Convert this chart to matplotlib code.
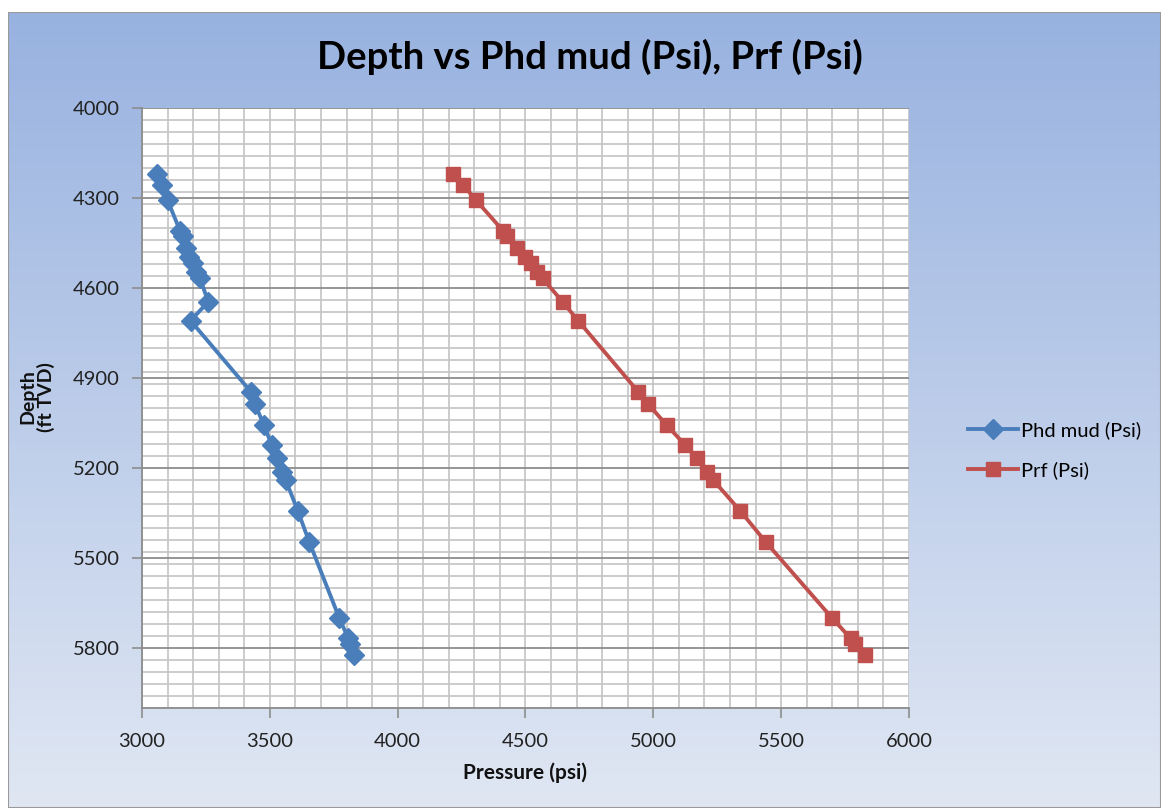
import numpy as np
import matplotlib
matplotlib.use("Agg")
import matplotlib.pyplot as plt
from matplotlib.ticker import MultipleLocator
from matplotlib.patches import Rectangle

# ---- data ----
depth_ft = [4220, 4257, 4307, 4410, 4425, 4468, 4496, 4518, 4545, 4568, 4646, 4709,
            4946, 4987, 5057, 5123, 5168, 5212, 5240, 5342, 5446, 5701, 5768, 5785, 5823]
phd_mud = [3059, 3078, 3100, 3149, 3160, 3172, 3183, 3198, 3212, 3227, 3259, 3190,
           3426, 3442, 3477, 3507, 3529, 3546, 3562, 3609, 3654, 3772, 3807, 3812, 3829]
prf = [4217, 4257, 4306, 4413, 4429, 4465, 4498, 4520, 4545, 4567, 4645, 4706,
       4941, 4980, 5052, 5124, 5169, 5208, 5234, 5339, 5439, 5700, 5772, 5790, 5828]
series_labels = ["Phd mud (Psi)", "Prf (Psi)"]
title = "Depth vs Phd mud (Psi), Prf (Psi)"
xlabel = "Pressure (psi)"
ylabel = "Depth\n(ft TVD)"

plt.rcParams['font.family'] = ['Lato', 'DejaVu Sans']

W, H = 1161, 808
fig = plt.figure(figsize=(W / 100, H / 100), dpi=100)
fig.patch.set_facecolor('white')

# background gradient panel
bx0, by_top = 8, 12
bg = fig.add_axes([bx0 / W, 0, 1 - bx0 / W, 1 - by_top / H], zorder=-10)
top_c = np.array([152, 178, 224]) / 255
bot_c = np.array([224, 231, 243]) / 255
t = np.linspace(0, 1, 256)[:, None]
grad = top_c[None, :] * (1 - t) + bot_c[None, :] * t
bg.imshow(grad[:, None, :].repeat(2, axis=1), aspect='auto', extent=[0, 1, 0, 1])
bg.set_xlim(0, 1); bg.set_ylim(0, 1)
bg.axis('off')
bg.add_patch(Rectangle((0, 0), 1, 1, transform=bg.transAxes, fill=False,
                       edgecolor='#9a9a9a', linewidth=1.5))

# main axes
left, right, top, bottom = 142, 909, 108, 708
ax = fig.add_axes([left / W, 1 - bottom / H, (right - left) / W, (bottom - top) / H])
ax.set_facecolor('white')

ax.plot(phd_mud, depth_ft, color='#4a7ebb', linewidth=2.8, marker='D',
        markersize=10, markerfacecolor='#4a7ebb', markeredgecolor='#4a7ebb',
        label=series_labels[0], zorder=3)
ax.plot(prf, depth_ft, color='#c0504d', linewidth=2.8, marker='s',
        markersize=10.5, markerfacecolor='#c0504d', markeredgecolor='#c0504d',
        label=series_labels[1], zorder=3)

ax.set_xlim(3000, 6000)
ax.set_ylim(6000, 4000)
ax.xaxis.set_major_locator(MultipleLocator(500))
ax.xaxis.set_minor_locator(MultipleLocator(100))
ax.set_yticks(np.arange(4000, 5801, 300))
ax.set_yticks(np.arange(4000, 6001, 40), minor=True)

ax.grid(which='minor', axis='both', color='#c4c4c4', linewidth=1.2)
ax.grid(which='major', axis='x', color='#c4c4c4', linewidth=1.2)
ax.grid(which='major', axis='y', color='#8c8c8c', linewidth=1.3)
ax.set_axisbelow(True)

for s in ['top', 'right']:
    ax.spines[s].set_visible(False)
for s in ['left', 'bottom']:
    ax.spines[s].set_color('#8c8c8c')
    ax.spines[s].set_linewidth(1.3)

ax.tick_params(which='major', direction='out', length=7, width=1.2, color='#8c8c8c',
               labelsize=14.5, labelcolor='#222222')
ax.tick_params(axis='y', pad=9)
ax.tick_params(axis='x', pad=11)
ax.tick_params(which='minor', length=0)

fig.text(590 / W, 1 - 57 / H, title, fontsize=27.5, fontweight='bold',
         ha='center', va='center', color='black')
fig.text(525 / W, 1 - 773 / H, xlabel, fontsize=15, fontweight='bold',
         ha='center', va='center', color='#111111')
fig.text(37 / W, 1 - 397 / H, ylabel, fontsize=14, fontweight='bold', rotation=90,
         ha='center', va='center', multialignment='center', linespacing=1.0,
         color='#111111')

fig.legend(loc='center left', bbox_to_anchor=(950 / W, 1 - 450 / H), frameon=False,
           fontsize=14.5, handlelength=2.5, handletextpad=0.15, labelspacing=1.1)

fig.savefig('out.png', dpi=100, facecolor=fig.get_facecolor())
